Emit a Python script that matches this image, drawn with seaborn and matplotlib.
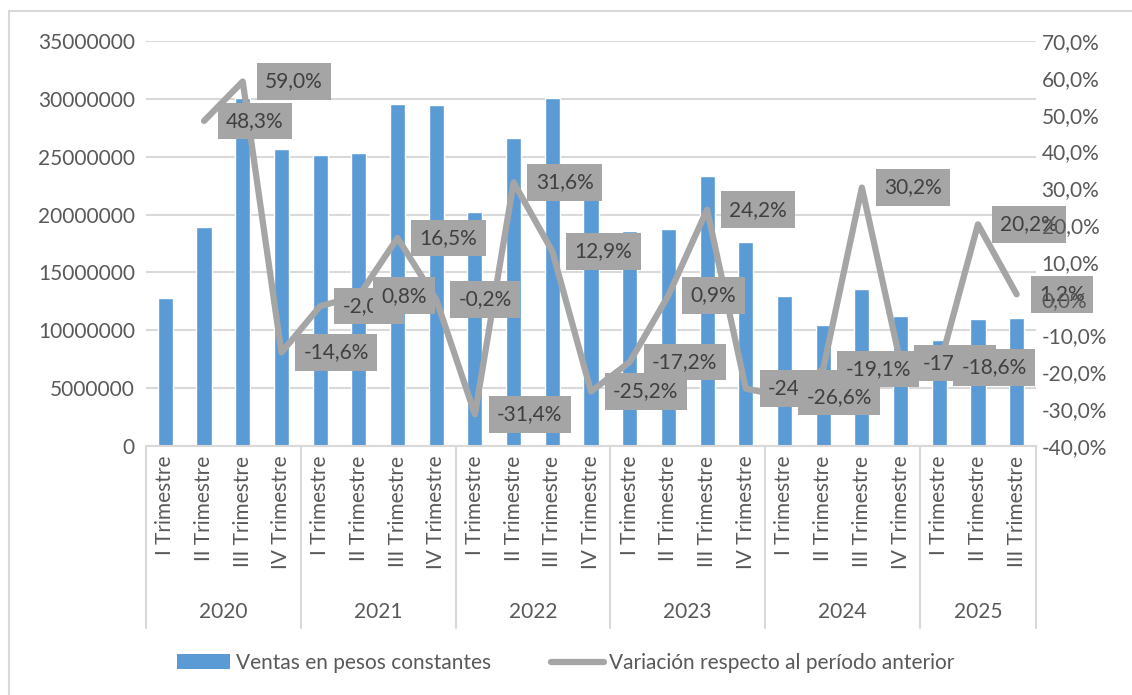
"""
Ventas trimestrales en pesos constantes y variación respecto al período anterior
(barras + línea en eje secundario, eje de categorías en dos niveles)
"""
import numpy as np
import pandas as pd
import matplotlib
matplotlib.use("Agg")
import matplotlib.pyplot as plt
import matplotlib.transforms as mtransforms
from matplotlib.lines import Line2D
from matplotlib.patches import Patch, Rectangle
import seaborn as sns

# -------------------------------------------------------------------
# Datos
# -------------------------------------------------------------------
anios = ["2020", "2021", "2022", "2023", "2024", "2025"]
trimestres_por_anio = [4, 4, 4, 4, 4, 3]
nombres_trimestre = ["I Trimestre", "II Trimestre", "III Trimestre", "IV Trimestre"]

ventas = [
    12750000, 18900000, 30050000, 25660000,
    25150000, 25350000, 29530000, 29470000,
    20220000, 26610000, 30040000, 22470000,
    18610000, 18780000, 23320000, 17630000,
    12950000, 10480000, 13600000, 11220000,
    9130000, 10970000, 11100000,
]
variacion = [
    np.nan, 0.483, 0.590, -0.146,
    -0.020, 0.008, 0.165, -0.002,
    -0.314, 0.316, 0.129, -0.252,
    -0.172, 0.009, 0.242, -0.244,
    -0.266, -0.191, 0.302, -0.175,
    -0.186, 0.202, 0.012,
]

etiquetas_izq = [0, 5000000, 10000000, 15000000, 20000000, 25000000, 30000000, 35000000]
etiquetas_der = [-0.4, -0.3, -0.2, -0.1, 0.0, 0.1, 0.2, 0.3, 0.4, 0.5, 0.6, 0.7]

# -------------------------------------------------------------------
# Estilo
# -------------------------------------------------------------------
AZUL = "#5B9BD5"
GRIS = "#A5A5A5"
GRID = "#D9D9D9"
TEXTO = "#595959"
FS = 15

sns.set_theme(style="white")
plt.rcParams["font.family"] = ["Lato", "DejaVu Sans"]

trimestre = [nombres_trimestre[q] for n in trimestres_por_anio for q in range(n)]
anio = [a for a, n in zip(anios, trimestres_por_anio) for _ in range(n)]
df = pd.DataFrame({
    "periodo": [f"{a} {t}" for a, t in zip(anio, trimestre)],
    "anio": anio,
    "trimestre": trimestre,
    "ventas": ventas,
    "variacion": variacion,
})
df["pos"] = np.arange(len(df))

fig = plt.figure(figsize=(11.32, 6.95), dpi=100)
W, H = 1132, 695
ax = fig.add_axes([146 / W, 1 - 446 / H, (1036 - 146) / W, (446 - 41) / H])

# borde del gráfico
fig.patches.append(Rectangle((9 / W, -0.1), 1.2, 1.1 - 11 / H,
                             transform=fig.transFigure, fill=False,
                             edgecolor=GRID, lw=1.5))

# -------------------------------------------------------------------
# Barras
# -------------------------------------------------------------------
sns.barplot(data=df, x="periodo", y="ventas", color=AZUL, width=0.39,
            saturation=1, ax=ax, zorder=2)
ax.set_ylim(0, 35000000)
ax.set_yticks(etiquetas_izq)
ax.set_yticklabels([str(v) for v in etiquetas_izq])
ax.yaxis.grid(True, color=GRID, lw=1.5, zorder=0)
ax.set_axisbelow(True)
ax.set_xlim(-0.5, len(df) - 0.5)
ax.set_xticks(df["pos"])
ax.set_xticklabels(df["trimestre"], rotation=90)
ax.set_xlabel("")
ax.set_ylabel("")
for s in ["top", "right", "left"]:
    ax.spines[s].set_visible(False)
ax.spines["bottom"].set_color(GRID)
ax.spines["bottom"].set_linewidth(1.5)
ax.tick_params(axis="y", length=0, pad=8, labelsize=FS, labelcolor=TEXTO)
ax.tick_params(axis="x", length=0, pad=7, labelsize=FS, labelcolor=TEXTO)

# eje de categorías en dos niveles
trans = mtransforms.blended_transform_factory(ax.transData, ax.transAxes)
limites = np.concatenate([[0], np.cumsum(trimestres_por_anio)]) - 0.5
for x in limites:
    ax.add_line(Line2D([x, x], [0, -0.449], transform=trans, color=GRID,
                       lw=1.5, clip_on=False))
for a, x0, x1 in zip(anios, limites[:-1], limites[1:]):
    ax.text((x0 + x1) / 2, -0.41, a, transform=trans, ha="center",
            va="center", fontsize=FS, color=TEXTO)

# -------------------------------------------------------------------
# Línea (eje secundario)
# -------------------------------------------------------------------
ax2 = ax.twinx()
sns.lineplot(data=df, x="pos", y="variacion", color=GRIS, lw=4.5, ax=ax2,
             solid_capstyle="round", solid_joinstyle="round")
ax2.set_ylim(-0.4, 0.7)
ax2.set_yticks(etiquetas_der)
ax2.set_yticklabels([f"{v * 100:.1f}%".replace(".", ",") for v in etiquetas_der])
ax2.set_xlim(-0.5, len(df) - 0.5)
ax2.set_xlabel("")
ax2.set_ylabel("")
for s in ax2.spines.values():
    s.set_visible(False)
ax2.tick_params(axis="y", length=0, pad=4, labelsize=FS, labelcolor=TEXTO)
ax2.set_axisbelow(False)   # rótulos del eje por encima de las etiquetas

# etiquetas de datos a la derecha de cada punto
for x, v in zip(df["pos"], df["variacion"]):
    if np.isnan(v):
        continue
    ax2.annotate(f"{v * 100:.1f}%".replace(".", ","), (x, v),
                 xytext=(16, 0), textcoords="offset points",
                 ha="left", va="center", fontsize=FS, color="#404040",
                 bbox=dict(boxstyle="square,pad=0.4", fc=GRIS, ec="none"),
                 annotation_clip=False, zorder=2.2)

# -------------------------------------------------------------------
# Leyenda
# -------------------------------------------------------------------
handles = [
    Patch(facecolor=AZUL, edgecolor="none"),
    Line2D([], [], color=GRIS, lw=4.5, solid_capstyle="round"),
]
fig.legend(handles, ["Ventas en pesos constantes",
                     "Variación respecto al período anterior"],
           loc="center", bbox_to_anchor=(0.5, 1 - 663 / H), ncol=2,
           frameon=False, fontsize=FS, labelcolor=TEXTO,
           handlelength=2.55, handletextpad=0.25, columnspacing=2.9)

fig.savefig("out.png", dpi=100)
